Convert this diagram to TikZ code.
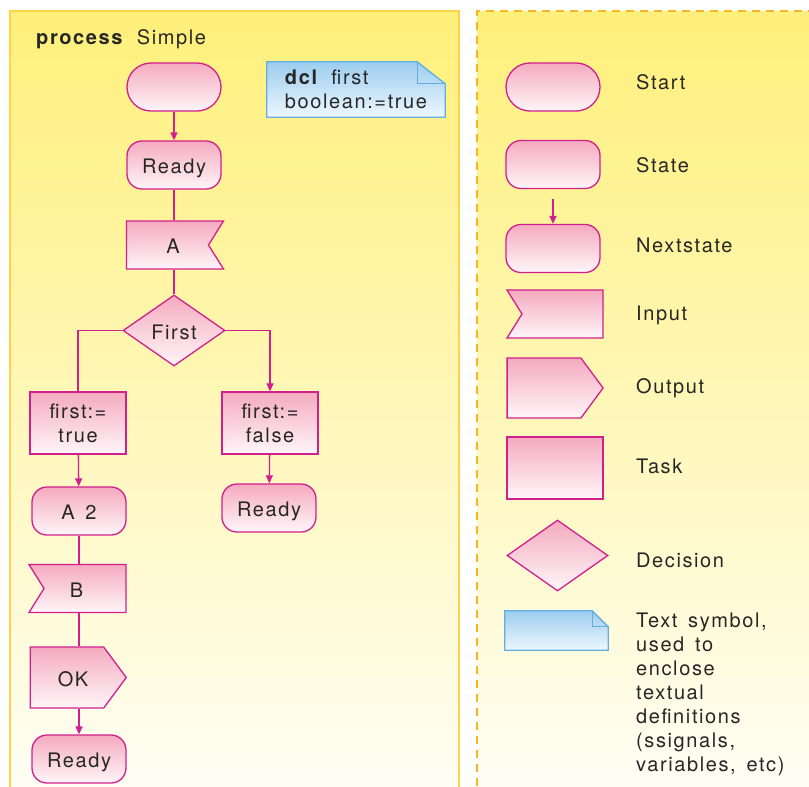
\documentclass[tikz,border=0pt]{standalone}
\usepackage{fontspec}
\setmainfont{TeX Gyre Heros}[LetterSpace=8,WordSpace=1.5]
\usepackage{tikz}
\usetikzlibrary{arrows.meta,positioning,shapes.geometric,shapes.symbols,backgrounds}
\usepackage{xcolor}
\definecolor{sdlpink}{HTML}{D21F8E}
\definecolor{sdltop}{HTML}{F4AABF}
\definecolor{sdlbot}{HTML}{FFF6F9}
\definecolor{notetop}{HTML}{9CCDEF}
\definecolor{notebot}{HTML}{EEF7FD}
\definecolor{noteline}{HTML}{62AEE2}
\definecolor{paneltop}{HTML}{FFF07A}
\definecolor{panelbot}{HTML}{FFFEF6}
\definecolor{panelline}{HTML}{FFD24C}
\definecolor{legline}{HTML}{F7B526}
\definecolor{ink}{HTML}{262626}
\newcommand{\sdlfont}{\fontsize{20}{24}\selectfont}
\pgfdeclarelayer{panel}
\pgfsetlayers{panel,background,main}
\tikzset{
    sdl/.style={draw=sdlpink, line width=1.3pt, top color=sdltop, bottom color=sdlbot,
                text=ink, inner sep=0pt, align=center, font=\sdlfont},
    oneline/.style={text height=17pt, text depth=0pt},
    startblk/.style={sdl, oneline, rectangle, rounded corners=24pt,
                     minimum width=94pt, minimum height=48pt},
    stateblk/.style={sdl, oneline, rectangle, rounded corners=15pt,
                     minimum width=94pt, minimum height=48pt},
    taskblk/.style={sdl, rectangle, minimum width=96pt, minimum height=62pt},
    % signal shapes: the node centre sits on the straight part, the notch/tip sticks out
    inblk/.style={sdl, oneline, signal, signal to=nowhere, signal from=#1,
                  signal pointer angle=116, minimum width=97pt, minimum height=48pt},
    outblk/.style={sdl, oneline, signal, signal to=east, signal pointer angle=107,
                   minimum width=96pt, minimum height=61pt},
    decblk/.style={sdl, oneline, diamond, aspect=1.42,
                   minimum width=102pt, minimum height=71pt},
    notebox/.style={rectangle, text=ink, align=left, font=\sdlfont, inner sep=0pt},
    notebg/.style={draw=noteline, line width=1.3pt, top color=notetop, bottom color=notebot},
    arr/.style={-{Triangle[width=7pt,length=8pt]}, draw=sdlpink, line width=1.3pt},
    ln/.style={draw=sdlpink, line width=1.3pt},
    lbl/.style={anchor=base west, text=ink, font=\sdlfont, align=left, inner sep=0pt},
}

\begin{document}
\begin{tikzpicture}[x=1pt, y=-1pt]
    \useasboundingbox (0,0) rectangle (809,787);

    % the two panels
    \begin{pgfonlayer}{panel}
        \shade[top color=paneltop, bottom color=panelbot] (10,11) rectangle (459,800);
        \draw[panelline, line width=1.5pt] (10,800) -- (10,11) -- (459,11) -- (459,800);
        \shade[top color=paneltop, bottom color=panelbot] (477,11) rectangle (815,800);
        \draw[legline, line width=1.5pt, dash pattern=on 8pt off 6pt]
            (477,800) -- (477,11) -- (815,11);
    \end{pgfonlayer}

    % process body
    \node[lbl] (title) at (36,44) {\textbf{process}\hspace{2pt} Simple};
    \node[notebox, minimum width=178pt, minimum height=55pt] (dcl) at (356,89.5)
        {\textbf{dcl}\hspace{2pt} first\\boolean:=true};

    \node[startblk] (start) at (174,87) {};
    \node[stateblk] (rdy1) at (174,165) {Ready};
    \node[inblk=east] (ina) at (167.5,245) {\kern11pt A};
    \node[decblk] (first) at (174,330.5) {First};
    \node[taskblk] (t1) at (78,423) {first:=\\true};
    \node[taskblk] (t2) at (270,423) {first:=\\false};
    \node[stateblk] (a2) at (79,511) {A 2};
    \node[stateblk] (rdy2) at (269,508) {Ready};
    \node[inblk=west] (inb) at (85,588.5) {B\kern17pt};
    \node[outblk] (ok) at (67,677.5) {\kern12pt OK};
    \node[stateblk] (rdy3) at (79,759) {Ready};

    \draw[arr] (start) -- (rdy1);
    \draw[ln] (rdy1) -- (rdy1 |- ina.north);
    \draw[ln] (rdy1 |- ina.south) -- (first);
    \draw[ln] (first.west) -| (t1.north);
    \draw[arr] (first.east) -| (t2.north);
    \draw[arr] (t1) -- (a2);
    \draw[arr] (t2) -- (rdy2);
    \draw[ln] (a2) -- (a2 |- inb.north);
    \draw[ln] (a2 |- inb.south) -- (a2 |- ok.north);
    \draw[arr] (rdy3 |- ok.south) -- (rdy3);

    % legend
    \node[startblk] (lstart) at (553,87) {};
    \node[stateblk] (lstate) at (553,164.5) {};
    \node[stateblk] (lnext) at (553,248.5) {};
    \node[inblk=west, minimum width=96pt] (lin) at (562.5,314) {};
    \node[outblk, minimum height=60pt] (lout) at (544,388) {};
    \node[taskblk] (ltask) at (555,468) {};
    \node[decblk, minimum width=101pt] (ldec) at (557.5,555.5) {};
    \node[notebox, minimum width=103pt, minimum height=39pt] (lnote) at (556.5,630.5) {};

    \draw[arr, shorten <=10pt] (lstate) -- (lnext);

    \node[lbl] (tstart) at (636,89) {Start};
    \node[lbl] (tstate) at (636,172) {State};
    \node[lbl] (tnext) at (636,252) {Nextstate};
    \node[lbl] (tin) at (636,320) {Input};
    \node[lbl] (tout) at (636,393) {Output};
    \node[lbl] (ttask) at (636,473) {Task};
    \node[lbl] (tdec) at (636,567) {Decision};
    \node[lbl, anchor=north west] (tnote) at (636,613)
        {Text symbol,\\used to\\enclose\\textual\\definitions\\(ssignals,\\variables, etc)};

    % folded-corner text symbols
    \begin{scope}[on background layer]
        \draw[notebg] (dcl.north west) -- ([xshift=-28pt]dcl.north east)
            -- ([yshift=-22pt]dcl.north east) -- (dcl.south east) -- (dcl.south west) -- cycle;
        \draw[noteline, line width=1.3pt] ([xshift=-28pt]dcl.north east)
            -- ([xshift=-28pt,yshift=-22pt]dcl.north east) -- ([yshift=-22pt]dcl.north east);
        \draw[notebg] (lnote.north west) -- ([xshift=-16pt]lnote.north east)
            -- ([yshift=-16pt]lnote.north east) -- (lnote.south east) -- (lnote.south west) -- cycle;
        \draw[noteline, line width=1.3pt] ([xshift=-16pt]lnote.north east)
            -- ([xshift=-16pt,yshift=-16pt]lnote.north east) -- ([yshift=-16pt]lnote.north east);
    \end{scope}
\end{tikzpicture}
\end{document}
